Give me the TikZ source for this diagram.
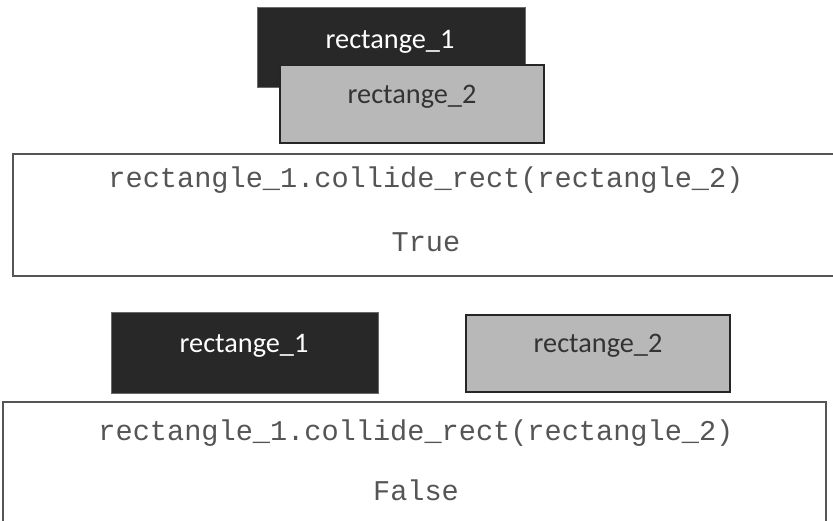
\documentclass[tikz,border=0pt]{standalone}
\usepackage{fontspec}
\newfontfamily\lblfont{Carlito}
\newfontfamily\codefont{Liberation Mono}
\definecolor{darkfill}{HTML}{282828}
\definecolor{darkline}{HTML}{6A6A6A}
\definecolor{grayfill}{HTML}{B8B8B8}
\definecolor{grayline}{HTML}{262626}
\definecolor{boxline}{HTML}{555555}
\definecolor{codecol}{HTML}{555555}
\tikzset{
  darkrect/.style={draw=darkline, line width=1pt, fill=darkfill},
  grayrect/.style={draw=grayline, line width=2.5pt, fill=grayfill},
  codebox/.style={draw=boxline, line width=2pt, fill=white},
  lbl/.style={font=\lblfont\fontsize{28.3}{30}\selectfont, anchor=base, inner sep=0pt},
  code/.style={font=\codefont\fontsize{28.6}{30}\selectfont, text=codecol, anchor=base, inner sep=0pt},
}
\begin{document}
\begin{tikzpicture}[x=1pt,y=-1pt]
\useasboundingbox (0,0) rectangle (833,521);
\clip (0,0) rectangle (833,521);
% top: colliding rectangles
\draw[darkrect] (257,8) rectangle (525,88);
\node[lbl, text=white] (r1toplbl) at (390,49) {rectange\_1};
\draw[grayrect] (280,65) rectangle (544,143);
\node[lbl, text=black!80] (r2toplbl) at (412,104) {rectange\_2};
% top result box
\draw[codebox] (13,154) rectangle (845,276);
\node[code] (codetop) at (426,188) {rectangle\_1.collide\_rect(rectangle\_2)};
\node[code] (truetxt) at (426,252) {True};
% bottom: separate rectangles
\draw[darkrect] (111,313) rectangle (378,393);
\node[lbl, text=white] (r1botlbl) at (244,353) {rectange\_1};
\draw[grayrect] (466,315) rectangle (730,392);
\node[lbl, text=black!80] (r2botlbl) at (598,353) {rectange\_2};
% bottom result box
\draw[codebox] (3,402) rectangle (826,540);
\node[code] (codebot) at (416,440) {rectangle\_1.collide\_rect(rectangle\_2)};
\node[code] (falsetxt) at (416,500) {False};
\end{tikzpicture}
\end{document}
